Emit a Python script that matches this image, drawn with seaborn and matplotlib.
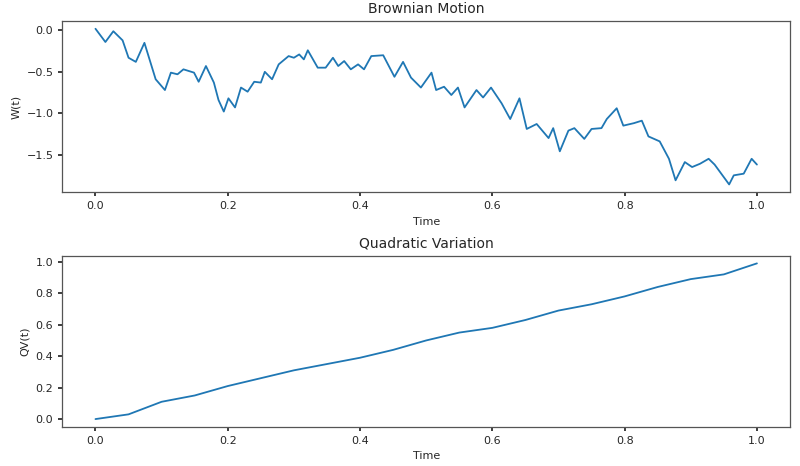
import matplotlib
matplotlib.use("Agg")
import matplotlib.pyplot as plt
import seaborn as sns
import pandas as pd

bm_t = [0, 0.015, 0.027, 0.041, 0.05, 0.061, 0.074, 0.091, 0.105, 0.114, 0.124, 0.133, 0.149,
        0.156, 0.167, 0.179, 0.186, 0.194, 0.201, 0.211, 0.22, 0.23, 0.24, 0.25, 0.256, 0.267,
        0.277, 0.292, 0.30, 0.308, 0.315, 0.321, 0.336, 0.348, 0.359, 0.367, 0.376, 0.386,
        0.397, 0.406, 0.417, 0.435, 0.452, 0.465, 0.477, 0.492, 0.508, 0.515, 0.527, 0.538,
        0.548, 0.558, 0.576, 0.586, 0.598, 0.614, 0.627, 0.641, 0.652, 0.667, 0.685, 0.692,
        0.702, 0.715, 0.724, 0.739, 0.75, 0.765, 0.773, 0.788, 0.798, 0.814, 0.826, 0.836,
        0.853, 0.867, 0.877, 0.891, 0.902, 0.914, 0.927, 0.936, 0.958, 0.965, 0.98, 0.992, 1.0]
bm_w = [0.02, -0.14, -0.01, -0.12, -0.33, -0.38, -0.15, -0.59, -0.72, -0.51, -0.53, -0.47, -0.51,
        -0.62, -0.43, -0.63, -0.84, -0.98, -0.82, -0.93, -0.69, -0.74, -0.62, -0.63, -0.50, -0.59,
        -0.41, -0.31, -0.33, -0.29, -0.35, -0.24, -0.45, -0.45, -0.33, -0.43, -0.37, -0.47,
        -0.41, -0.47, -0.31, -0.30, -0.56, -0.38, -0.57, -0.69, -0.51, -0.72, -0.68, -0.78,
        -0.69, -0.93, -0.72, -0.81, -0.69, -0.88, -1.07, -0.82, -1.19, -1.13, -1.30, -1.18,
        -1.46, -1.21, -1.18, -1.31, -1.19, -1.18, -1.07, -0.94, -1.15, -1.12, -1.09, -1.28,
        -1.34, -1.55, -1.81, -1.59, -1.65, -1.61, -1.55, -1.62, -1.86, -1.75, -1.73, -1.55, -1.62]

qv_t = [0, 0.05, 0.1, 0.15, 0.2, 0.25, 0.3, 0.35, 0.4, 0.45, 0.5, 0.55, 0.6, 0.65, 0.7,
        0.75, 0.8, 0.85, 0.9, 0.95, 1.0]
qv_v = [0, 0.03, 0.11, 0.15, 0.21, 0.26, 0.31, 0.35, 0.39, 0.44, 0.50, 0.55, 0.58, 0.63, 0.69,
        0.73, 0.78, 0.84, 0.89, 0.92, 0.99]

sns.set_theme(style="white", rc={"axes.edgecolor": "#555555", "axes.linewidth": 0.9,
                                 "xtick.bottom": True, "ytick.left": True})
fig, (ax1, ax2) = plt.subplots(2, 1, figsize=(8, 4.66), dpi=100)
fig.subplots_adjust(left=0.078, right=0.9875, top=0.955, bottom=0.084, hspace=0.37)

sns.lineplot(data=pd.DataFrame({"t": bm_t, "w": bm_w}), x="t", y="w", ax=ax1, color="#1f77b4", lw=1.3)
ax1.set_title("Brownian Motion", fontsize=10)
ax1.set_xlabel("Time", fontsize=8)
ax1.set_ylabel("W(t)", fontsize=8)
ax1.set_yticks([0.0, -0.5, -1.0, -1.5])

sns.lineplot(data=pd.DataFrame({"t": qv_t, "q": qv_v}), x="t", y="q", ax=ax2, color="#1f77b4", lw=1.3)
ax2.set_title("Quadratic Variation", fontsize=10)
ax2.set_xlabel("Time", fontsize=8)
ax2.set_ylabel("QV(t)", fontsize=8)

for ax in (ax1, ax2):
    ax.set_xticks([0, 0.2, 0.4, 0.6, 0.8, 1.0])
    ax.tick_params(labelsize=8, length=3)
    ax.set_xlim(-0.05, 1.05)

fig.savefig("out.png")
